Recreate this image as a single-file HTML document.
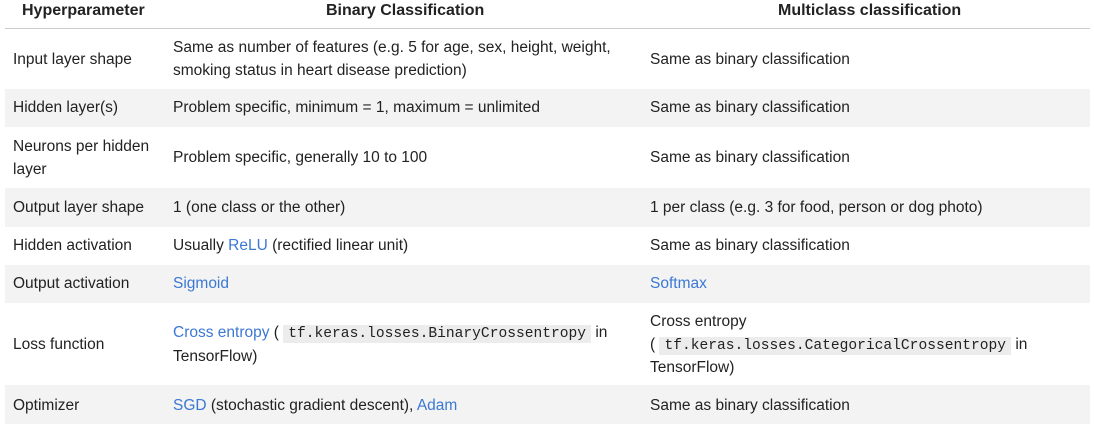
<!DOCTYPE html>
<html><head><meta charset="utf-8"><style>
body{margin:0;width:1094px;height:424px;background:#fff;overflow:hidden;font-family:"Liberation Sans",sans-serif;font-size:15.5px;color:#222;}
.row{position:absolute;left:5px;width:1085px;}
.sh{background:#f3f3f3;}
.c{position:absolute;line-height:22.5px;white-space:nowrap;}
.c1{left:8px}.c2{left:168px}.c3{left:645px}
a{color:#3b78d4;text-decoration:none}
code{font-family:"Liberation Mono",monospace;font-size:14.6px;background:#ececec;padding:1px 5px;}
.h{position:absolute;top:2px;font-weight:bold;font-size:16px;}
</style></head><body>
<div>
<div class="row" style="top:0;height:28px;border-bottom:1px solid #ccc">
 <div class="h" style="left:17px">Hyperparameter</div>
 <div class="h" style="left:321px">Binary Classification</div>
 <div class="h" style="left:773px">Multiclass classification</div>
</div>
<div class="row" style="top:29px;height:60px">
 <div class="c c1" style="top:20px">Input layer shape</div>
 <div class="c c2" style="top:8px">Same as number of features (e.g. 5 for age, sex, height, weight,<br>smoking status in heart disease prediction)</div>
 <div class="c c3" style="top:20px">Same as binary classification</div>
</div>
<div class="row sh" style="top:89px;height:38px">
 <div class="c c1" style="top:8px">Hidden layer(s)</div>
 <div class="c c2" style="top:8px">Problem specific, minimum = 1, maximum = unlimited</div>
 <div class="c c3" style="top:8px">Same as binary classification</div>
</div>
<div class="row" style="top:127px;height:61px">
 <div class="c c1" style="top:9px">Neurons per hidden<br>layer</div>
 <div class="c c2" style="top:20px">Problem specific, generally 10 to 100</div>
 <div class="c c3" style="top:20px">Same as binary classification</div>
</div>
<div class="row sh" style="top:188px;height:39px">
 <div class="c c1" style="top:9px">Output layer shape</div>
 <div class="c c2" style="top:9px">1 (one class or the other)</div>
 <div class="c c3" style="top:9px">1 per class (e.g. 3 for food, person or dog photo)</div>
</div>
<div class="row" style="top:227px;height:38px">
 <div class="c c1" style="top:8px">Hidden activation</div>
 <div class="c c2" style="top:8px">Usually <a>ReLU</a> (rectified linear unit)</div>
 <div class="c c3" style="top:8px">Same as binary classification</div>
</div>
<div class="row sh" style="top:265px;height:38px">
 <div class="c c1" style="top:8px">Output activation</div>
 <div class="c c2" style="top:8px"><a>Sigmoid</a></div>
 <div class="c c3" style="top:8px"><a>Softmax</a></div>
</div>
<div class="row" style="top:303px;height:82px">
 <div class="c c1" style="top:31px">Loss function</div>
 <div class="c c2" style="top:19px"><a>Cross entropy</a> ( <code>tf.keras.losses.BinaryCrossentropy</code> in<br>TensorFlow)</div>
 <div class="c c3" style="top:8px">Cross entropy<br>( <code>tf.keras.losses.CategoricalCrossentropy</code> in<br>TensorFlow)</div>
</div>
<div class="row sh" style="top:385px;height:39px">
 <div class="c c1" style="top:10px">Optimizer</div>
 <div class="c c2" style="top:10px"><a>SGD</a> (stochastic gradient descent), <a>Adam</a></div>
 <div class="c c3" style="top:10px">Same as binary classification</div>
</div>
</div>
</body></html>
